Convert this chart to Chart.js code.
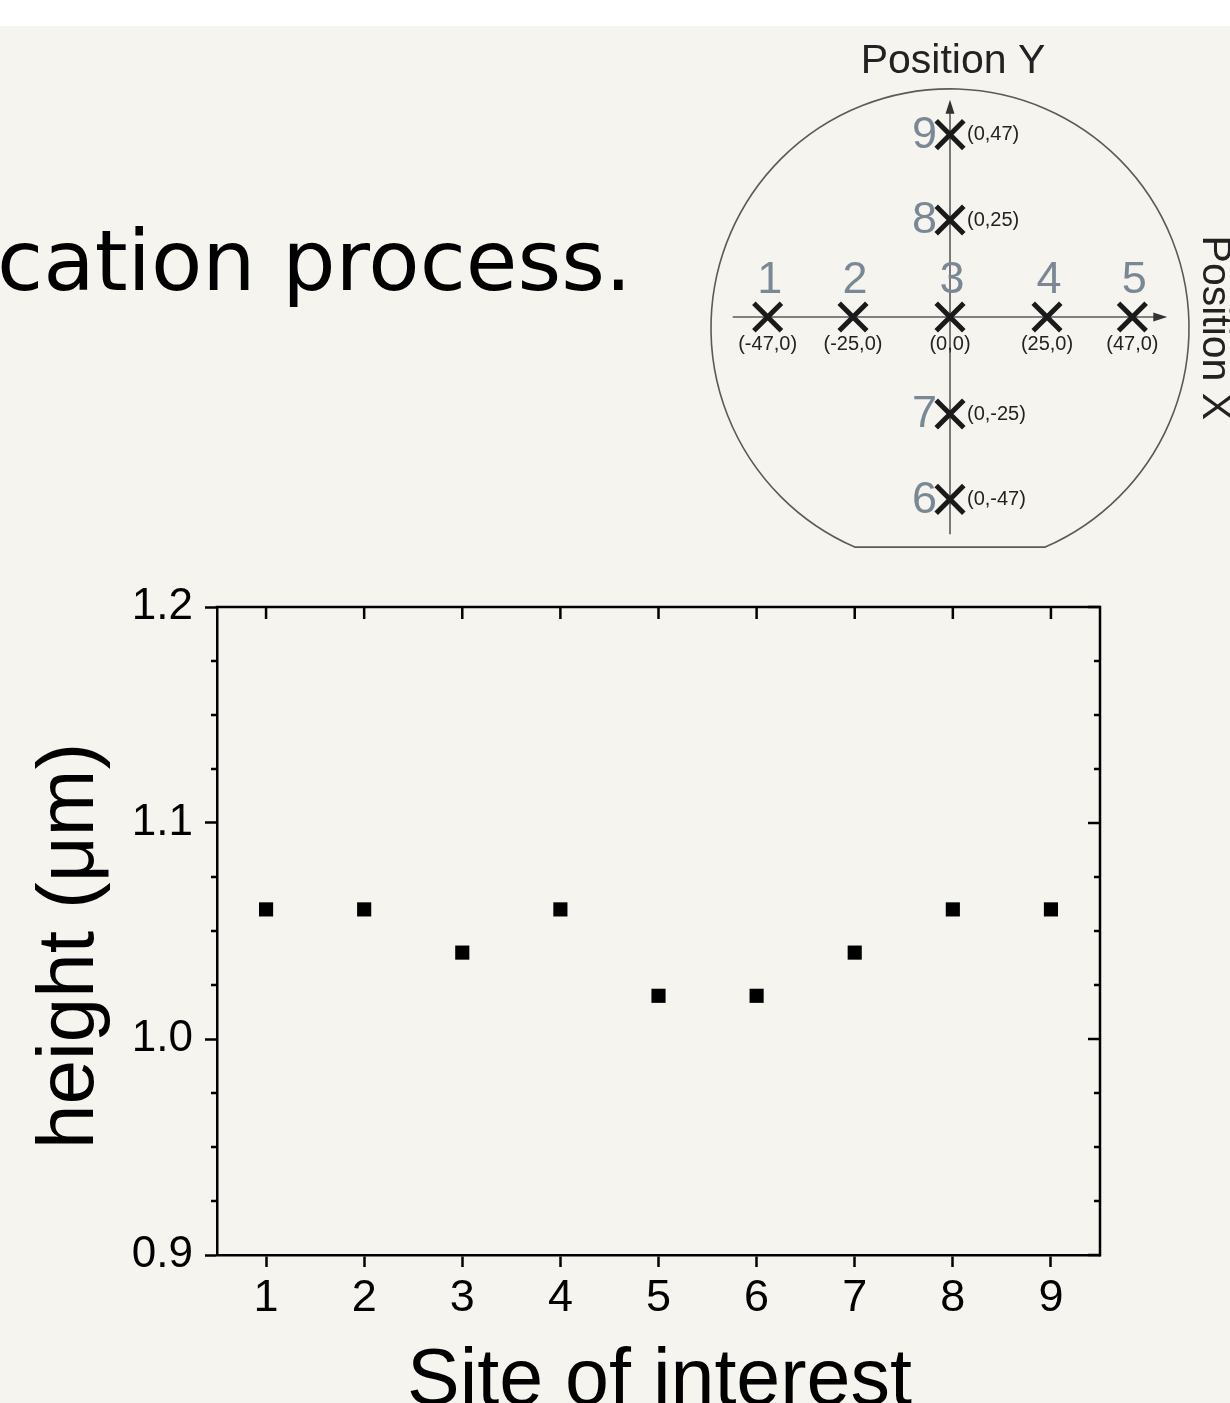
<!DOCTYPE html>
<html><head><meta charset="utf-8">
<script src="https://cdn.jsdelivr.net/npm/chart.js@4.4.0/dist/chart.umd.min.js"></script>
<style>
html,body{margin:0;padding:0;overflow:hidden;background:#f5f4ef;width:1230px;height:1403px;}
#band{position:absolute;left:0;top:0;width:1230px;height:26px;background:#ffffff;}
#main{position:absolute;left:0;top:0;}
#inset{position:absolute;left:700px;top:30px;}
#head{position:absolute;left:-3px;top:219px;font-family:"DejaVu Sans",sans-serif;font-size:84px;line-height:84px;color:#000;white-space:nowrap;}
</style></head><body>
<div id="band"></div>
<canvas id="main" width="1230" height="1403"></canvas>
<div id="head"></div>
<canvas id="inset" width="530" height="540"></canvas>
<script>
// ---- data ----
const sites = [1, 2, 3, 4, 5, 6, 7, 8, 9];
const heights = [1.06, 1.06, 1.04, 1.06, 1.02, 1.02, 1.04, 1.06, 1.06];
const yMajorTicks = [0.9, 1.0, 1.1, 1.2];
const yMinorDivisions = 4;
const xTitle = 'Site of interest';
const yTitle = 'height (μm)';
const headline = 'cation process.';

// wafer inset: site coordinates (mm)
const siteX = [-47, -25, 0, 25, 47, 0, 0, 0, 0];
const siteY = [0, 0, 0, 0, 0, -47, -25, 25, 47];
const insetXTitle = 'Position X';
const insetYTitle = 'Position Y';

document.getElementById('head').textContent = headline;

Chart.defaults.font.family = '"Liberation Sans", Arial, sans-serif';
Chart.defaults.color = '#000';

const LW = 2.5;

const framePlugin = {
  id: 'frame',
  afterDraw(chart) {
    const {ctx, chartArea: a, scales: {x, y}} = chart;
    ctx.save();
    ctx.strokeStyle = '#000';
    ctx.lineWidth = LW;
    ctx.beginPath();
    ctx.moveTo(a.left - LW / 2, a.top);
    ctx.lineTo(a.right, a.top);
    ctx.lineTo(a.right, a.bottom + LW / 2);
    ctx.stroke();
    ctx.beginPath();
    x.ticks.forEach(t => {
      const px = x.getPixelForValue(t.value);
      ctx.moveTo(px, a.top); ctx.lineTo(px, a.top + 12);
    });
    y.ticks.forEach(t => {
      const py = y.getPixelForValue(t.value);
      ctx.moveTo(a.right, py); ctx.lineTo(a.right - 12, py);
    });
    for (let i = 0; i < yMajorTicks.length - 1; i++) {
      const step = (yMajorTicks[i + 1] - yMajorTicks[i]) / yMinorDivisions;
      for (let k = 1; k < yMinorDivisions; k++) {
        const py = y.getPixelForValue(yMajorTicks[i] + k * step);
        ctx.moveTo(a.left - 6, py); ctx.lineTo(a.left, py);
        ctx.moveTo(a.right, py); ctx.lineTo(a.right - 6, py);
      }
    }
    ctx.stroke();
    ctx.fillStyle = '#000';
    ctx.textAlign = 'center';
    ctx.textBaseline = 'alphabetic';
    ctx.font = '79px "Liberation Sans", Arial, sans-serif';
    ctx.fillText(xTitle, (a.left + a.right) / 2 + 1, a.bottom + 149);
    ctx.font = '80px "Liberation Sans", Arial, sans-serif';
    ctx.translate(a.left - 124, (a.top + a.bottom) / 2 + 15);
    ctx.rotate(-Math.PI / 2);
    ctx.fillText(yTitle, 0, 0);
    ctx.restore();
  }
};

new Chart(document.getElementById('main'), {
  type: 'scatter',
  data: {
    datasets: [{
      data: sites.map((s, i) => ({x: s, y: heights[i]})),
      pointStyle: 'rect',
      radius: 10,
      hoverRadius: 10,
      backgroundColor: '#000',
      borderColor: '#000',
      borderWidth: 0
    }]
  },
  options: {
    responsive: false,
    animation: false,
    devicePixelRatio: 1,
    events: [],
    layout: {autoPadding: false, padding: {left: 0, top: 607, right: 130, bottom: 0}},
    plugins: {legend: {display: false}, tooltip: {enabled: false}},
    scales: {
      x: {
        type: 'linear', min: 0.5, max: 9.5,
        afterBuildTicks: s => { s.ticks = sites.map(v => ({value: v})); },
        afterFit: s => { s.height = 148; },
        grid: {drawOnChartArea: false, drawTicks: true, tickLength: 12, tickWidth: LW, tickColor: '#000'},
        border: {display: true, color: '#000', width: LW},
        ticks: {font: {size: 45}, color: '#000', padding: 5, maxRotation: 0, autoSkip: false,
          callback: v => String(v)}
      },
      y: {
        type: 'linear', min: 0.9, max: 1.2,
        afterBuildTicks: s => { s.ticks = yMajorTicks.map(v => ({value: v})); },
        afterFit: s => { s.width = 217; },
        grid: {drawOnChartArea: false, drawTicks: true, tickLength: 12, tickWidth: LW, tickColor: '#000'},
        border: {display: true, color: '#000', width: LW},
        ticks: {font: {size: 44}, color: '#000', padding: 12, autoSkip: false,
          callback: v => Number(v).toFixed(1)}
      }
    }
  },
  plugins: [framePlugin]
});

// ---- wafer inset ----
const waferPlugin = {
  id: 'wafer',
  beforeDatasetsDraw(chart) {
    const {ctx, scales: {x, y}} = chart;
    const ox = x.getPixelForValue(0), oy = y.getPixelForValue(0);
    const unit = x.getPixelForValue(1) - ox;
    const cx = ox, cy = y.getPixelForValue(-2.8);
    const R = 61.6 * unit;
    const flat = y.getPixelForValue(-59.3);
    const dy = flat - cy, dx = Math.sqrt(R * R - dy * dy);
    ctx.save();
    ctx.strokeStyle = '#5a5a5a';
    ctx.lineWidth = 1.6;
    ctx.beginPath();
    ctx.arc(cx, cy, R, Math.atan2(dy, -dx), Math.atan2(dy, dx) + 2 * Math.PI);
    ctx.closePath();
    ctx.stroke();
    const ax = 56;
    const xl = x.getPixelForValue(-ax), xr = x.getPixelForValue(ax);
    const yt = y.getPixelForValue(ax), yb = y.getPixelForValue(-ax);
    ctx.beginPath();
    ctx.moveTo(xl, oy); ctx.lineTo(xr - 8, oy);
    ctx.moveTo(ox, yb); ctx.lineTo(ox, yt + 8);
    ctx.stroke();
    ctx.fillStyle = '#333';
    ctx.beginPath();
    ctx.moveTo(xr, oy); ctx.lineTo(xr - 14, oy - 4.5); ctx.lineTo(xr - 14, oy + 4.5); ctx.closePath();
    ctx.moveTo(ox, yt); ctx.lineTo(ox - 4.5, yt + 14); ctx.lineTo(ox + 4.5, yt + 14); ctx.closePath();
    ctx.fill();
    ctx.restore();
  },
  afterDatasetsDraw(chart) {
    const {ctx, scales: {x, y}} = chart;
    const ox = x.getPixelForValue(0);
    const unit = x.getPixelForValue(1) - ox;
    ctx.save();
    siteX.forEach((sx, i) => {
      const px = x.getPixelForValue(sx), py = y.getPixelForValue(siteY[i]);
      const onX = siteY[i] === 0;
      ctx.fillStyle = '#7a8896';
      ctx.font = '45px "Liberation Sans", Arial, sans-serif';
      ctx.textBaseline = 'middle';
      if (onX) { ctx.textAlign = 'center'; ctx.fillText(String(sites[i]), px + 2, py - 36); }
      else { ctx.textAlign = 'right'; ctx.fillText(String(sites[i]), px - 13, py + 1); }
      ctx.fillStyle = '#222';
      ctx.font = '20px "Liberation Sans", Arial, sans-serif';
      const lab = '(' + sx + ',' + siteY[i] + ')';
      if (onX) { ctx.textAlign = 'center'; ctx.fillText(lab, px, py + 27); }
      else { ctx.textAlign = 'left'; ctx.fillText(lab, px + 17, py); }
    });
    ctx.fillStyle = '#222';
    ctx.font = '41px "Liberation Sans", Arial, sans-serif';
    ctx.textAlign = 'center';
    ctx.textBaseline = 'middle';
    ctx.fillText(insetYTitle, ox + 3, y.getPixelForValue(56) - 38);
    ctx.translate(ox + 61.6 * unit + 25, y.getPixelForValue(-2.8));
    ctx.rotate(Math.PI / 2);
    ctx.fillText(insetXTitle, 0, 0);
    ctx.restore();
  }
};

new Chart(document.getElementById('inset'), {
  type: 'scatter',
  data: {
    datasets: [{
      data: siteX.map((sx, i) => ({x: sx, y: siteY[i]})),
      pointStyle: 'crossRot',
      radius: 19.5,
      hoverRadius: 19.5,
      borderWidth: 5,
      borderColor: '#1a1a1a',
      backgroundColor: '#1a1a1a'
    }]
  },
  options: {
    responsive: false,
    animation: false,
    devicePixelRatio: 1,
    events: [],
    clip: false,
    layout: {autoPadding: false, padding: {left: 17.2, right: 47.2, top: 54.2, bottom: 20.2}},
    plugins: {legend: {display: false}, tooltip: {enabled: false}},
    scales: {
      x: {type: 'linear', min: -60, max: 60, display: false},
      y: {type: 'linear', min: -60, max: 60, display: false}
    }
  },
  plugins: [waferPlugin]
});
</script>
</body></html>
